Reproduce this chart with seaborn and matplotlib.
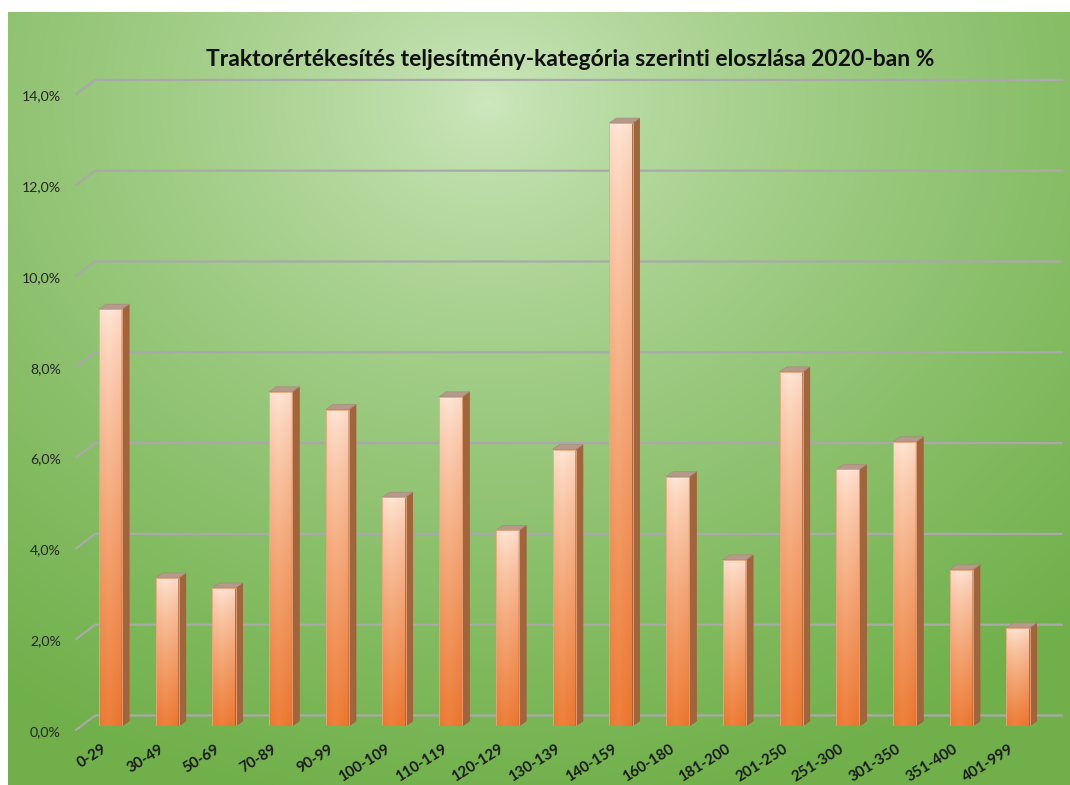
import numpy as np
import matplotlib
matplotlib.use("Agg")
import matplotlib.pyplot as plt
import matplotlib.transforms as mtransforms
from matplotlib.patches import Polygon
import seaborn as sns

# data (percent)
categories = ["0-29", "30-49", "50-69", "70-89", "90-99", "100-109", "110-119",
              "120-129", "130-139", "140-159", "160-180", "181-200", "201-250",
              "251-300", "301-350", "351-400", "401-999"]
shares = [9.18, 3.26, 3.04, 7.36, 6.97, 5.04, 7.25, 4.31, 6.09, 13.28,
          5.49, 3.66, 7.80, 5.65, 6.26, 3.44, 2.16]
yticks = [0, 2, 4, 6, 8, 10, 12, 14]
ytick_labels = ["0,0%", "2,0%", "4,0%", "6,0%", "8,0%", "10,0%", "12,0%", "14,0%"]
title = "Traktorértékesítés teljesítmény-kategória szerinti eloszlása 2020-ban %"

sns.set_style("white")
plt.rcParams['font.family'] = ['Lato', 'DejaVu Sans']

W, H = 1070, 785
fig = plt.figure(figsize=(W / 100, H / 100), dpi=100)

# green radial background
bg = fig.add_axes([8 / W, 0, 1 - 8 / W, (H - 12) / H])
bg.set_axis_off()
yy, xx = np.mgrid[0:H - 12, 0:W - 8]
d = np.sqrt(((xx - 480) / 1.0) ** 2 + ((yy - 90) / 0.85) ** 2)
t = np.clip(d / 840, 0, 1) ** 0.75
light = np.array([0.81, 0.91, 0.75])
dark = np.array([0.44, 0.69, 0.29])
img = light[None, None, :] * (1 - t[..., None]) + dark[None, None, :] * t[..., None]
bg.imshow(img, aspect="auto", extent=[0, 1, 0, 1], origin="upper")
bg.set_xlim(0, 1)
bg.set_ylim(0, 1)

# plot area: bar baseline at y=726px, 45.4 px per percent
left_px, right_px = 82.1, 1046.4
base_px, top_px = 726, 726 - 14 * 45.4
ax = fig.add_axes([left_px / W, (H - base_px) / H,
                   (right_px - left_px) / W, (base_px - top_px) / H])
ax.patch.set_alpha(0)

sns.barplot(x=categories, y=shares, width=0.41, ax=ax, color="#f4a06a",
            saturation=1, zorder=3)
ax.set_xlim(-0.5, len(categories) - 0.5)
ax.set_ylim(0, 14)
ax.set_xticks([])
ax.set_yticks([])
for s in ax.spines.values():
    s.set_visible(False)

def off(dx, dy):
    return mtransforms.ScaledTranslation(dx / 100, dy / 100, fig.dpi_scale_trans)

# back wall gridlines plus the slanted floor edge on the left
ytr = ax.get_yaxis_transform()
x_back = (95 - left_px) / (right_px - left_px)
x_front = (76 - left_px) / (right_px - left_px)
x_end = (1062 - left_px) / (right_px - left_px)
back_dy = 10.5 / 45.4
front_dy = -4 / 45.4
for v in yticks:
    ax.plot([x_front, x_back, x_end], [v + front_dy, v + back_dy, v + back_dy],
            transform=ytr, color="#a9a9a9", lw=1.6, zorder=1, clip_on=False)

# y labels
for v, lab in zip(yticks, ytick_labels):
    ax.text((61 - left_px) / (right_px - left_px), v, lab, transform=ytr + off(0, -6),
            ha="right", va="center", fontsize=10.2, color="#262626")

# x labels
xtr = ax.get_xaxis_transform()
for i, lab in enumerate(categories):
    ax.text(i, 0, lab, transform=xtr + off(-5, -22), rotation=32,
            rotation_mode="anchor", ha="right", va="center",
            fontsize=10.8, fontweight="bold", color="#1a1a1a")

# 3-D look: gradient front face, darker side face, top face
dxd = 7 / 56.72
dyd = 5 / 45.4
vgrad = np.linspace(0, 1, 200)[:, None]
hgrad = np.linspace(0, 1, 40)[None, :]
c_top = np.array([1.0, 0.91, 0.85])
c_bot = np.array([0.93, 0.50, 0.23])
for p in list(ax.patches):
    x0, y0 = p.get_x(), p.get_y()
    w, h = p.get_width(), p.get_height()
    x1, y1 = x0 + w, y0 + h
    # front gradient (top light, bottom orange, a bit darker near edges)
    tt = (vgrad ** 0.75) * np.ones_like(hgrad)
    edge = np.abs(hgrad - 0.4) * 2
    col = c_top[None, None, :] * (1 - tt[..., None]) + c_bot[None, None, :] * tt[..., None]
    col = np.clip(col - 0.08 * edge[..., None] * np.array([0.1, 0.5, 0.6]), 0, 1)
    im = ax.imshow(col, extent=[x0, x1, y0, y1], origin="upper", aspect="auto",
                   zorder=4)
    im.set_clip_path(p)
    p.set_edgecolor("#eba47a")
    p.set_linewidth(0.6)
    p.set_facecolor("none")
    p.set_zorder(5)
    side = Polygon([[x1, y0], [x1 + dxd, y0 + dyd], [x1 + dxd, y1 + dyd], [x1, y1]],
                   closed=True, facecolor="#a2643b", edgecolor="#9a5e38", lw=0.5,
                   zorder=4)
    top = Polygon([[x0, y1], [x0 + dxd, y1 + dyd], [x1 + dxd, y1 + dyd], [x1, y1]],
                  closed=True, facecolor="#b59a8c", edgecolor="#a88a7a", lw=0.5,
                  zorder=4)
    ax.add_patch(side)
    ax.add_patch(top)

ax.set_xlim(-0.5, len(categories) - 0.5)
ax.set_ylim(0, 14)

fig.text(570 / W, 1 - 60 / H, title, ha="center", va="center",
         fontsize=16.5, fontweight="bold", color="#111111")

fig.savefig("out.png", dpi=100)
